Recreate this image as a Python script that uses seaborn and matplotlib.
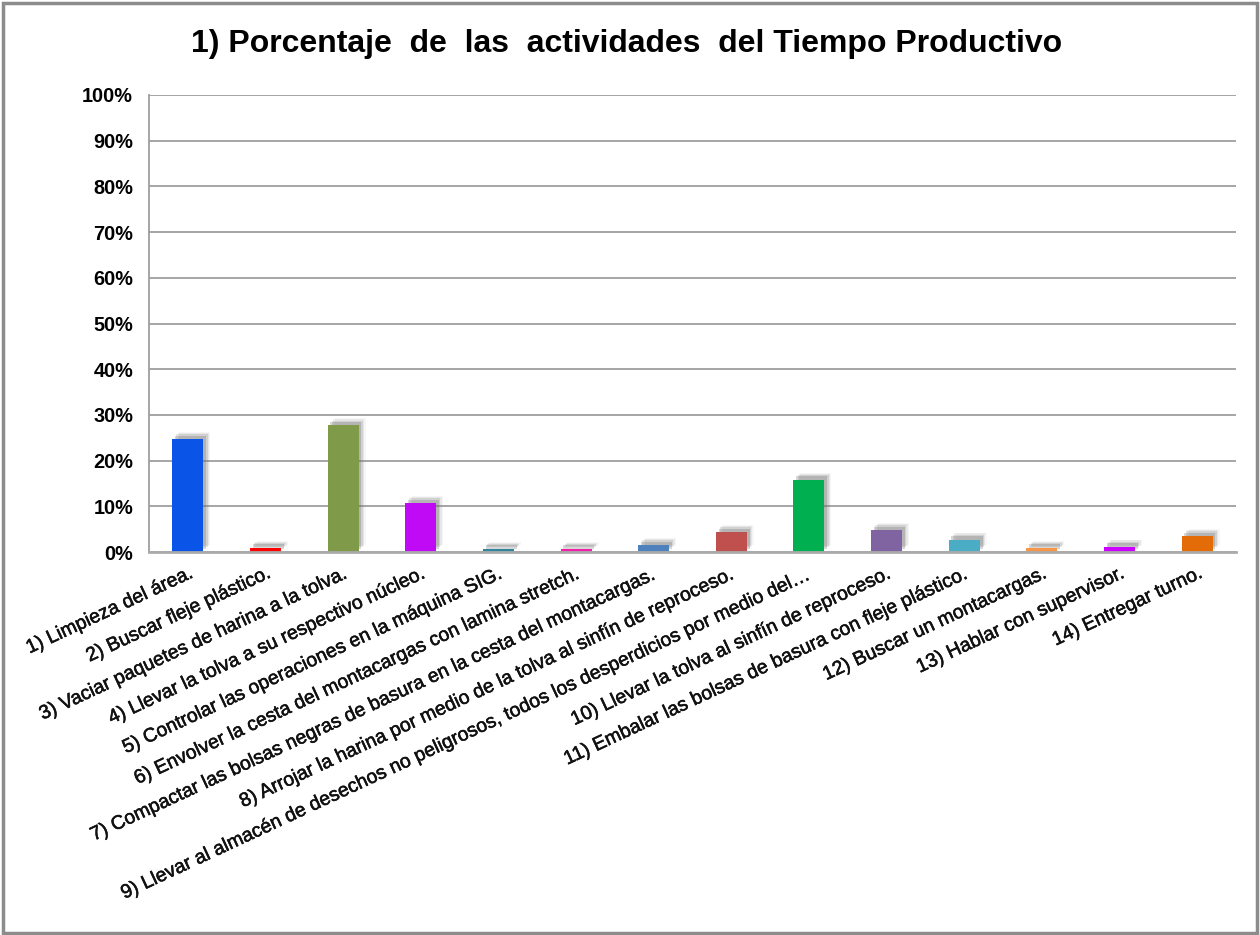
import matplotlib
matplotlib.use("Agg")
import matplotlib.pyplot as plt
import matplotlib.patheffects as pe
import matplotlib.transforms as mtransforms
from matplotlib import font_manager
from matplotlib.patches import Rectangle
from matplotlib.ticker import PercentFormatter, MultipleLocator
import seaborn as sns
import pandas as pd

# Activities and their share of the productive time
actividades = [
    "1) Limpieza del área.",
    "2) Buscar fleje plástico.",
    "3) Vaciar paquetes de harina a la tolva.",
    "4) Llevar la tolva a su respectivo núcleo.",
    "5) Controlar las operaciones en la máquina SIG.",
    "6) Envolver la cesta del montacargas con lamina stretch.",
    "7) Compactar las bolsas negras de basura en la cesta del montacargas.",
    "8) Arrojar la harina por medio de la tolva al sinfín de reproceso.",
    "9) Llevar al almacén de desechos no peligrosos, todos los desperdicios por medio del…",
    "10) Llevar la tolva al sinfín de reproceso.",
    "11) Embalar las bolsas de basura con fleje plástico.",
    "12) Buscar un montacargas.",
    "13) Hablar con supervisor.",
    "14) Entregar turno.",
]
porcentajes = [0.247, 0.009, 0.277, 0.107, 0.007, 0.007, 0.015,
               0.043, 0.158, 0.048, 0.027, 0.009, 0.012, 0.035]
colores = ["#0A55E8", "#FF0000", "#7F9A48", "#C00AF5", "#31859C", "#F020A8", "#4F81BD",
           "#C0504D", "#00B050", "#8064A2", "#4BACC6", "#F79646", "#CC00FF", "#E36C09"]
titulo = "1) Porcentaje  de  las  actividades  del Tiempo Productivo"

df = pd.DataFrame({"actividad": actividades, "porcentaje": porcentajes})

sns.set_theme(style="white")
plt.rcParams["font.family"] = ["Liberation Sans", "DejaVu Sans"]

# condensed face for the heading when available
familias = {f.name for f in font_manager.fontManager.ttflist}
if "Liberation Sans Narrow" in familias:
    fuente_titulo, tam_titulo = "Liberation Sans Narrow", 27.5
else:
    fuente_titulo, tam_titulo = "Liberation Sans", 23

W, H = 1260, 935
fig = plt.figure(figsize=(W / 100, H / 100), dpi=100)
fig.subplots_adjust(left=149 / W, right=1236 / W, top=1 - 95 / H, bottom=1 - 552 / H)
ax = fig.add_subplot(111)

sns.barplot(data=df, x="actividad", y="porcentaje", hue="actividad",
            palette=colores, order=actividades, hue_order=actividades,
            width=0.40, legend=False, saturation=1, ax=ax, zorder=3)

# soft drop shadow towards the upper right of each bar
shadow = [
    pe.SimplePatchShadow(offset=(5.0, 5.0), shadow_rgbFace="#909090", alpha=0.08),
    pe.SimplePatchShadow(offset=(4.0, 4.5), shadow_rgbFace="#808080", alpha=0.12),
    pe.SimplePatchShadow(offset=(3.0, 3.5), shadow_rgbFace="#707070", alpha=0.18),
    pe.SimplePatchShadow(offset=(2.0, 2.5), shadow_rgbFace="#606060", alpha=0.25),
    pe.Normal(),
]
for p in ax.patches:
    p.set_path_effects(shadow)
    p.set_edgecolor("none")

ax.set_ylim(0, 1)
ax.set_xlim(-0.5, len(actividades) - 0.5)
ax.yaxis.set_major_locator(MultipleLocator(0.1))
ax.yaxis.set_major_formatter(PercentFormatter(1.0, decimals=0))
ax.grid(axis="y", color="#9E9E9E", linewidth=1.3, zorder=0)
ax.set_axisbelow(True)
ax.set_xlabel("")
ax.set_ylabel("")

for side in ["top", "right"]:
    ax.spines[side].set_visible(False)
ax.spines["left"].set_color("#9E9E9E")
ax.spines["left"].set_linewidth(1.3)
ax.spines["bottom"].set_color("#ABABAB")
ax.spines["bottom"].set_linewidth(2.0)
ax.spines["bottom"].set_zorder(4)

ax.tick_params(axis="y", length=4.5, width=1.3, color="#9E9E9E", pad=7,
               labelsize=14.3, labelcolor="black")
for t in ax.get_yticklabels():
    t.set_fontweight("bold")

ax.tick_params(axis="x", length=0, pad=9)
ax.set_xticks(range(len(actividades)))
ax.set_xticklabels(actividades, rotation=25, ha="right", va="top",
                   rotation_mode="anchor", fontsize=14.0, color="#111111")
shift = mtransforms.ScaledTranslation(2 / 100, 0, fig.dpi_scale_trans)
for t in ax.get_xticklabels():
    t.set_transform(t.get_transform() + shift)
    t.set_path_effects([pe.withStroke(linewidth=0.4, foreground="#111111")])

fig.text(0.497, 1 - 44 / H, titulo, ha="center", va="center",
         fontsize=tam_titulo, fontweight="bold", color="black",
         family=[fuente_titulo, "DejaVu Sans"])

# outer frame of the chart
fig.add_artist(Rectangle((2.5 / W, 2.5 / H), 1 - 5.5 / W, 1 - 5.5 / H,
                         transform=fig.transFigure, fill=False,
                         edgecolor="#8C8C8C", linewidth=2.5))

fig.savefig("out.png", dpi=100)
